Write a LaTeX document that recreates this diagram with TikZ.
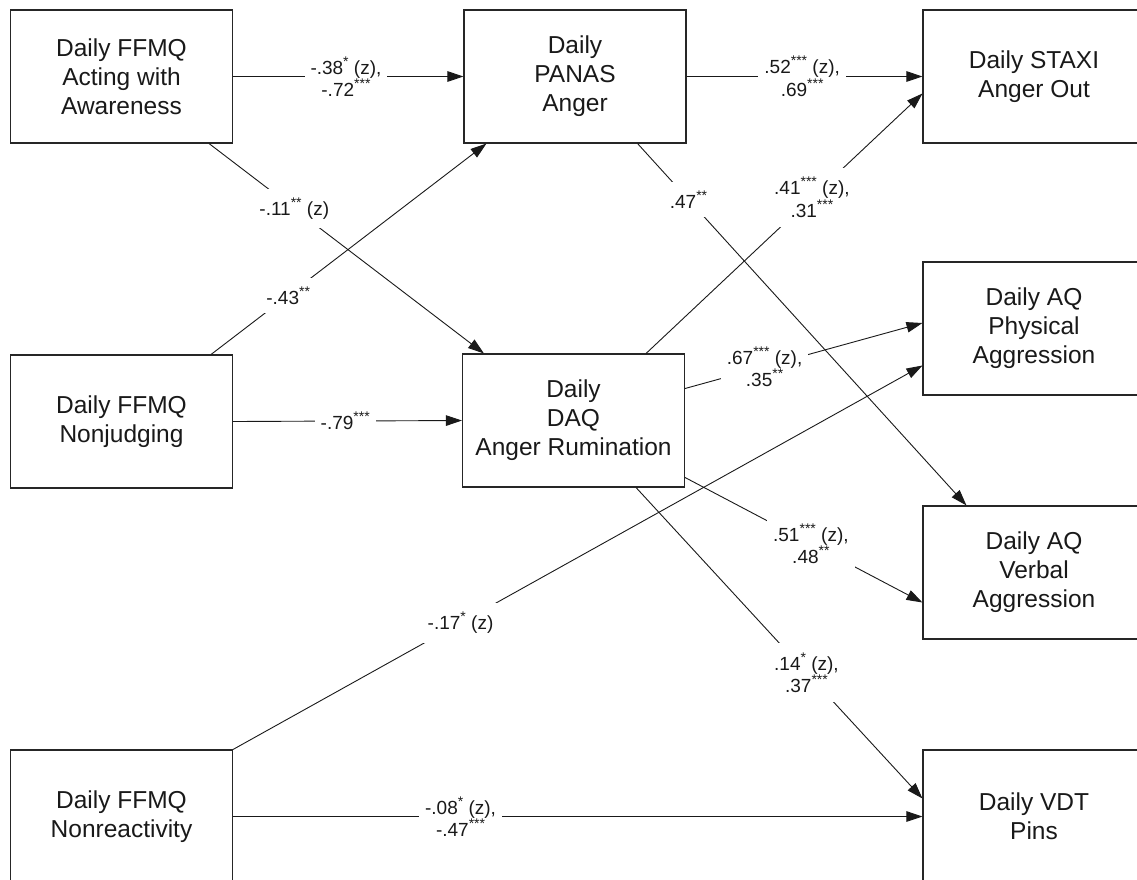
\documentclass[tikz,border=0pt]{standalone}
\usepackage{fontspec}
\setmainfont{Liberation Sans}
\usepackage{tikz}
\usetikzlibrary{arrows.meta}
\newcommand{\stars}[1]{\raisebox{0.42em}{\fontsize{14}{14}\selectfont #1}}

\begin{document}
\begin{tikzpicture}[x=1pt, y=-1pt,
    measure/.style={draw=black!85, line width=1.1pt, minimum width=222pt, minimum height=133pt, inner sep=0pt, align=center, text=black!90, font=\fontsize{24.5}{29}\selectfont},
    effect/.style={draw=black!90, line width=0.9pt, -{Triangle[length=16pt,width=10.5pt]}},
    coef/.style={fill=white, align=center, inner xsep=6pt, inner ysep=9pt, text=black!90, font=\fontsize{19}{17}\selectfont}]
    \useasboundingbox (0,0) rectangle (1137,879);

        \node[measure] (awa) at (121.5,76.5) {Daily FFMQ\\Acting with\\Awareness};
        \node[measure] (nj) at (121.5,421.5) {Daily FFMQ\\Nonjudging};
        \node[measure] (nr) at (121.5,816.5) {Daily FFMQ\\Nonreactivity};

        \node[measure] (pan) at (575,76.5) {Daily\\PANAS\\Anger};
        \node[measure] (daq) at (573.5,420.5) {Daily\\DAQ\\Anger Rumination};

        \node[measure] (stx) at (1034,76.5) {Daily STAXI\\Anger Out};
        \node[measure] (phy) at (1034,328.5) {Daily AQ\\Physical\\Aggression};
        \node[measure] (vrb) at (1034,572.5) {Daily AQ\\Verbal\\Aggression};
        \node[measure] (vdt) at (1034,816.5) {Daily VDT\\Pins};

        \draw[effect] (awa.east) -- node[coef, pos=0.49] {-.38\stars{*} (z),\\-.72\stars{***}} (pan.west);
        \draw[effect] ([xshift=-24pt]awa.south east) -- node[coef, pos=0.31] {-.11\stars{**} (z)} ([xshift=22pt]daq.north west);
        \draw[effect] ([xshift=-22pt]nj.north east) -- node[coef, pos=0.28] {-.43\stars{**}} ([xshift=23pt]pan.south west);
        \draw[effect] (nj.east) -- node[coef, pos=0.49] {-.79\stars{***}} (daq.west);
        \draw[effect] (nr.north east) -- node[coef, pos=0.33] {-.17\stars{*} (z)} ([yshift=-37pt]phy.west);
        \draw[effect] (nr.east) -- node[coef, pos=0.33] {-.08\stars{*} (z),\\-.47\stars{***}} (vdt.west);

        \draw[effect] (pan.east) -- node[coef, pos=0.49] {.52\stars{***} (z),\\.69\stars{***}} (stx.west);
        \draw[effect] ([xshift=-49pt]pan.south east) -- node[coef, pos=0.155] {.47\stars{**}} ([xshift=44pt]vrb.north west);

        \draw[effect] ([xshift=-39pt]daq.north east) -- node[coef, pos=0.6] {.41\stars{***} (z),\\.31\stars{***}} ([yshift=-17pt]stx.west);
        \draw[effect] ([yshift=32pt]daq.east) -- node[coef, pos=0.335] {.67\stars{***} (z),\\.35\stars{**}} ([yshift=5.5pt]phy.west);
        \draw[effect] ([yshift=-57pt]daq.east) -- node[coef, pos=0.53] {.51\stars{***} (z),\\.48\stars{**}} ([yshift=-30pt]vrb.west);
        \draw[effect] ([xshift=-49pt]daq.south east) -- node[coef, pos=0.595] {.14\stars{*} (z),\\.37\stars{***}} ([yshift=18pt]vdt.west);
    \end{tikzpicture}
\end{document}
